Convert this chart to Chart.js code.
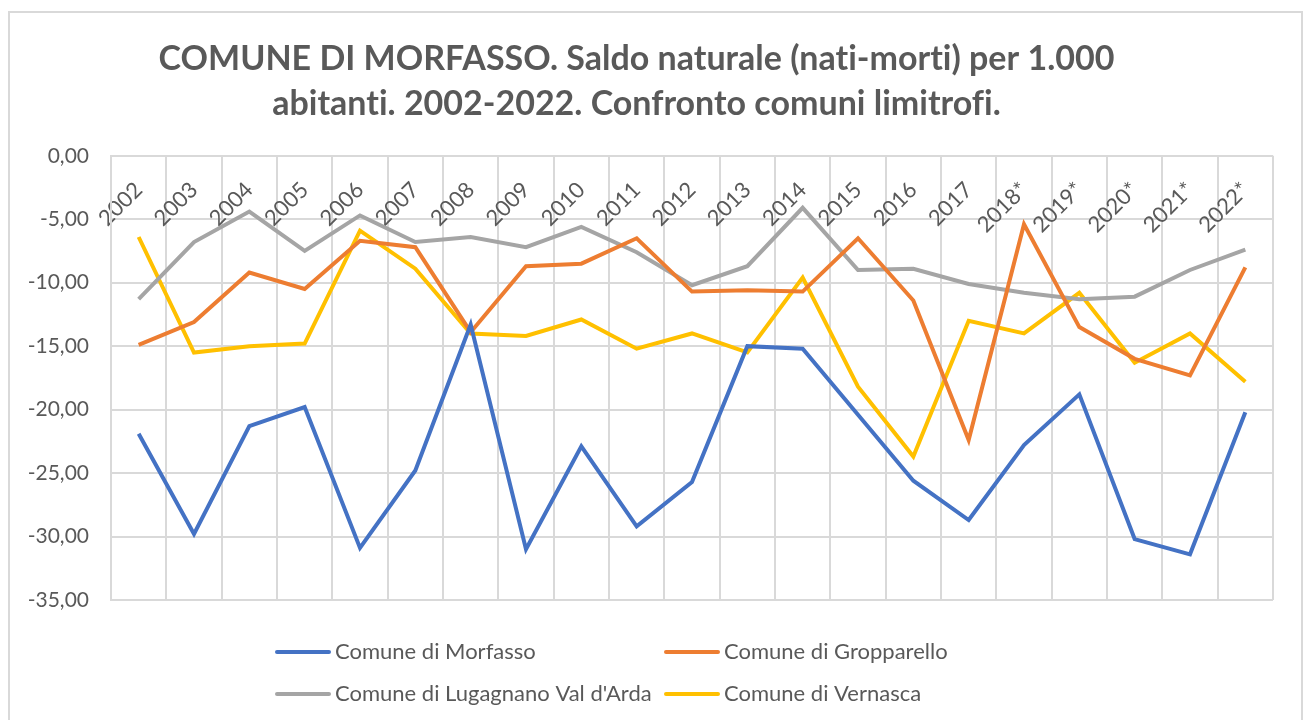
<!DOCTYPE html>
<html lang="it">
<head>
<meta charset="utf-8">
<title>Comune di Morfasso - saldo naturale</title>
<script src="https://cdn.jsdelivr.net/npm/chart.js@4.4.1/dist/chart.umd.min.js"></script>
<style>
    html, body {
        margin: 0;
        padding: 0;
        background: #ffffff;
    }
    #wrap {
        position: relative;
        width: 1306px;
        height: 720px;
    }
</style>
</head>
<body>
<div id="wrap">
    <canvas id="saldoChart" width="1306" height="720"></canvas>
</div>
<script>
const years = ['2002', '2003', '2004', '2005', '2006', '2007', '2008', '2009', '2010', '2011', '2012',
    '2013', '2014', '2015', '2016', '2017', '2018*', '2019*', '2020*', '2021*', '2022*'];

const morfasso = [-21.9, -29.8, -21.3, -19.8, -30.9, -24.8, -13.3, -31.0, -22.9, -29.2, -25.7,
    -15.0, -15.2, -20.4, -25.6, -28.7, -22.8, -18.8, -30.2, -31.4, -20.2];
const gropparello = [-14.9, -13.1, -9.2, -10.5, -6.7, -7.2, -13.9, -8.7, -8.5, -6.5, -10.7,
    -10.6, -10.7, -6.5, -11.4, -22.4, -5.4, -13.5, -16.0, -17.3, -8.8];
const lugagnano = [-11.3, -6.8, -4.4, -7.5, -4.7, -6.8, -6.4, -7.2, -5.6, -7.6, -10.2,
    -8.7, -4.1, -9.0, -8.9, -10.1, -10.8, -11.3, -11.1, -9.0, -7.4];
const vernasca = [-6.4, -15.5, -15.0, -14.8, -5.9, -8.9, -14.0, -14.2, -12.9, -15.2, -14.0,
    -15.5, -9.6, -18.2, -23.7, -13.0, -14.0, -10.8, -16.3, -14.0, -17.8];

const seriesNames = ['Comune di Morfasso', 'Comune di Gropparello', 'Comune di Lugagnano Val d\'Arda', 'Comune di Vernasca'];
const seriesColors = ['#4472C4', '#ED7D31', '#A5A5A5', '#FFC000'];

const titleLines = ['COMUNE DI MORFASSO. Saldo naturale (nati-morti) per 1.000',
    'abitanti. 2002-2022. Confronto comuni limitrofi.'];

const textColor = '#595959';
const gridColor = '#d9d9d9';
const baseFont = 'Lato, "Open Sans", sans-serif';

// outer frame of the chart object
const framePlugin = {
    id: 'frame',
    beforeDraw(chart) {
        const ctx = chart.ctx;
        // no ti / fi ligatures in the title
        ctx.textRendering = 'optimizeSpeed';
        ctx.save();
        ctx.strokeStyle = gridColor;
        ctx.lineWidth = 2;
        ctx.strokeRect(9, 12, 1293, 720);
        ctx.restore();
    },
};

// two-column legend like the spreadsheet one
const legendPlugin = {
    id: 'gridLegend',
    afterDraw(chart) {
        const ctx = chart.ctx;
        ctx.save();
        ctx.font = '22px ' + baseFont;
        ctx.textBaseline = 'middle';
        ctx.textAlign = 'left';
        chart.data.datasets.forEach((ds, i) => {
            const col = i % 2;
            const row = Math.floor(i / 2);
            const x = 277 + col * 389;
            const y = 652 + row * 42;
            ctx.strokeStyle = ds.borderColor;
            ctx.lineWidth = 4;
            ctx.lineCap = 'round';
            ctx.beginPath();
            ctx.moveTo(x, y);
            ctx.lineTo(x + 52, y);
            ctx.stroke();
            ctx.fillStyle = textColor;
            ctx.fillText(ds.label, x + 58, y);
        });
        ctx.restore();
    },
};

const allValues = [morfasso, gropparello, lugagnano, vernasca];

new Chart(document.getElementById('saldoChart'), {
    type: 'line',
    data: {
        labels: years,
        datasets: allValues.map((values, i) => ({
            label: seriesNames[i],
            data: values,
            borderColor: seriesColors[i],
            backgroundColor: seriesColors[i],
            borderWidth: 4,
            pointRadius: 0,
            tension: 0,
            fill: false,
        })),
    },
    options: {
        responsive: false,
        animation: false,
        layout: {
            padding: { left: 0, right: 33, top: 0, bottom: 120 },
        },
        plugins: {
            legend: { display: false },
            tooltip: { enabled: false },
            title: {
                display: true,
                text: titleLines,
                color: textColor,
                font: { family: baseFont, size: 34, weight: 'bold', lineHeight: 1.32 },
                padding: { top: 37, bottom: 29 },
            },
        },
        scales: {
            x: {
                type: 'category',
                position: { y: 0 },
                offset: true,
                grid: {
                    offset: true,
                    color: gridColor,
                    lineWidth: 2,
                    drawTicks: false,
                },
                border: { display: false },
                ticks: {
                    color: textColor,
                    font: { family: baseFont, size: 22 },
                    minRotation: 45,
                    maxRotation: 45,
                    autoSkip: false,
                    padding: 21,
                },
            },
            y: {
                min: -35,
                max: 0,
                grid: {
                    color: gridColor,
                    lineWidth: 2,
                    drawTicks: false,
                },
                border: { color: gridColor, width: 2 },
                ticks: {
                    stepSize: 5,
                    color: textColor,
                    font: { family: baseFont, size: 21 },
                    padding: 22,
                    callback: (value) => value.toFixed(2).replace('.', ','),
                },
                afterFit(scale) {
                    scale.width = 111;
                },
            },
        },
    },
    plugins: [framePlugin, legendPlugin],
});
</script>
</body>
</html>
